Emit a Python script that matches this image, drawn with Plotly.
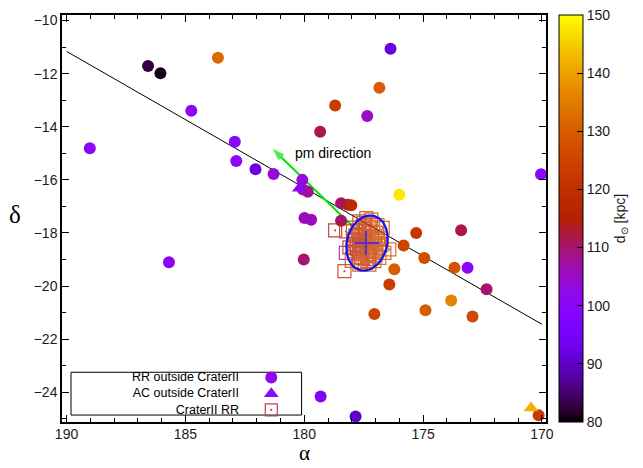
import numpy as np
import plotly.graph_objects as go

# ---------------- data ----------------
# RR Lyrae outside Crater II: alpha, delta, distance [kpc]
rr_alpha = [189.02, 186.57, 186.05, 183.63, 184.75, 182.92, 182.86, 182.05, 181.29,
            176.37, 176.84, 178.70, 177.35, 179.33, 170.04, 176.00,
            180.08, 180.05, 179.85, 178.45, 178.17, 178.02, 179.99, 179.71, 178.45,
            180.02, 185.69, 175.29, 173.40, 175.82, 174.95, 173.68, 173.13, 176.21,
            176.42, 172.33, 173.82, 174.90, 172.92, 177.05, 170.14, 177.84, 179.31]
rr_delta = [-14.81, -11.71, -11.98, -11.40, -13.40, -14.56, -15.29, -15.60, -15.78,
            -11.06, -12.53, -13.20, -13.59, -14.19, -15.79, -16.56,
            -16.00, -16.36, -16.45, -16.88, -16.94, -16.96, -17.44, -17.50, -17.54,
            -19.00, -19.10, -18.00, -17.90, -18.47, -18.94, -19.31, -19.31, -19.37,
            -19.94, -20.12, -20.54, -20.91, -21.15, -21.05, -24.87, -24.91, -24.16]
rr_dist = [100, 83, 81, 132, 100, 100, 100, 92, 104,
           92, 130, 123, 105, 112, 100, 148,
           104, 106, 108, 110, 113, 118, 106, 106, 110,
           110, 100, 122, 112, 125, 127, 128, 100, 130,
           123, 110, 136, 130, 126, 125, 123, 90, 98]

# Anomalous Cepheids outside Crater II
ac_alpha = [180.20, 170.46]
ac_delta = [-16.32, -24.59]
ac_dist = [100, 142]

# Crater II RR Lyrae
cr_alpha = [178.70, 178.24, 178.31, 178.10, 176.70, 176.63, 176.42, 177.39, 177.18,
            177.68, 177.68, 177.26, 177.05, 176.84, 177.89, 178.25, 177.95, 178.00,
            177.55, 177.30, 177.10, 177.75, 177.45, 177.20, 176.95, 177.85, 177.60,
            177.38, 177.15, 176.90, 177.70, 177.50, 177.28, 177.05, 177.90, 177.62,
            177.40, 177.18, 176.98, 177.78, 177.55, 177.33, 177.12, 177.65, 177.42,
            177.22, 177.00, 177.55, 177.30, 177.48, 177.25, 177.68, 177.02, 177.36,
            177.58, 177.14, 177.80, 176.85, 177.95, 177.45, 177.35, 177.72, 176.80,
            177.50, 177.20, 176.75, 177.00, 177.62, 177.28, 176.92]
cr_delta = [-17.90, -17.94, -19.44, -18.54, -17.81, -18.75, -18.62, -17.44, -17.50,
            -17.56, -19.19, -19.19, -19.06, -18.94, -18.69, -18.75, -17.80, -19.05,
            -17.75, -17.70, -17.80, -17.90, -17.95, -17.98, -18.00, -18.10, -18.12,
            -18.15, -18.18, -18.22, -18.30, -18.32, -18.35, -18.38, -18.42, -18.45,
            -18.48, -18.50, -18.55, -18.60, -18.62, -18.65, -18.68, -18.78, -18.80,
            -18.82, -18.85, -18.95, -18.98, -18.25, -18.55, -18.05, -18.12, -18.40,
            -18.52, -18.28, -18.48, -18.40, -18.25, -17.85, -19.05, -18.92, -18.20,
            -17.62, -17.65, -18.45, -18.70, -19.10, -18.88, -17.70]
cr_dist = [114, 118, 120, 116, 125, 126, 127, 124, 122,
           120, 123, 126, 125, 127, 119, 108, 121, 122,
           118, 122, 124, 119, 121, 123, 126, 117, 120,
           122, 124, 125, 118, 121, 123, 125, 116, 120,
           122, 124, 126, 118, 121, 123, 125, 119, 122,
           124, 126, 120, 123, 121, 124, 119, 125, 122,
           120, 123, 117, 126, 118, 121, 124, 120, 126,
           122, 124, 127, 125, 121, 123, 125]

# great-circle fit line end points
fit_alpha = [190.0, 170.0]
fit_delta = [-11.16, -21.44]

# proper-motion arrow (tail -> head) and label
pm_alpha = [177.97, 181.33]
pm_delta = [-17.75, -14.83]
pm_label = "pm direction"

# Crater II centre and half-light ellipse parameters
cr_centre = (177.36, -18.38)
ell_a_alpha = 0.86
ell_b_delta = 1.04
ell_shear = 0.135
cross_half_alpha = 0.52
cross_half_delta = 0.45

legend_labels = ["RR outside CraterII", "AC outside CraterII", "CraterII RR"]
cbar_ticks = [80, 90, 100, 110, 120, 130, 140, 150]

# ---------------- gnuplot default palette (rgbformulae 7,5,15) ----------------
xs = np.linspace(0, 1, 41)
colorscale = []
for x in xs:
    r = np.sqrt(x)
    g = x ** 3
    b = np.clip(np.sin(2 * np.pi * x), 0, 1)
    colorscale.append([float(x), f"rgb({int(round(r*255))},{int(round(g*255))},{int(round(b*255))})"])

FONT = "Liberation Sans, Arial, sans-serif"

fig = go.Figure()

# fit line
fig.add_trace(go.Scatter(x=fit_alpha, y=fit_delta, mode="lines",
                         line=dict(color="black", width=1), showlegend=False, hoverinfo="skip"))

# proper-motion arrow (line + arrow head marker)
fig.add_trace(go.Scatter(x=pm_alpha, y=pm_delta, mode="lines+markers",
                         line=dict(color="#00e600", width=2),
                         marker=dict(symbol=["circle", "arrow"], size=[0, 13], angleref="previous",
                                     color="#00e600", line=dict(width=0)),
                         showlegend=False, hoverinfo="skip"))

# RR outside
fig.add_trace(go.Scatter(x=rr_alpha, y=rr_delta, mode="markers", name=legend_labels[0],
                         marker=dict(symbol="circle", size=12, color=rr_dist, coloraxis="coloraxis",
                                     line=dict(width=0)), showlegend=False))
# AC outside
fig.add_trace(go.Scatter(x=ac_alpha, y=ac_delta, mode="markers", name=legend_labels[1],
                         marker=dict(symbol="triangle-up", size=13, color=ac_dist, coloraxis="coloraxis",
                                     line=dict(width=0)), showlegend=False))
# Crater II RR
fig.add_trace(go.Scatter(x=cr_alpha, y=cr_delta, mode="markers", name=legend_labels[2],
                         marker=dict(symbol="square-open-dot", size=13, color=cr_dist, coloraxis="coloraxis",
                                     line=dict(width=1.2)), opacity=0.8, showlegend=False))

# ellipse
t = np.linspace(0, 2 * np.pi, 200)
e_d = ell_b_delta * np.sin(t)
e_a = ell_a_alpha * np.cos(t) - ell_shear * e_d
fig.add_trace(go.Scatter(x=cr_centre[0] + e_a, y=cr_centre[1] + e_d, mode="lines",
                         line=dict(color="#0a14f0", width=2.2), showlegend=False, hoverinfo="skip"))
# centre cross
fig.add_trace(go.Scatter(
    x=[cr_centre[0] + cross_half_alpha, cr_centre[0] - cross_half_alpha, None, cr_centre[0] + 0.05, cr_centre[0] + 0.05],
    y=[cr_centre[1], cr_centre[1], None, cr_centre[1] + cross_half_delta, cr_centre[1] - cross_half_delta],
    mode="lines", line=dict(color="#5030d0", width=2), showlegend=False, hoverinfo="skip"))

# manual gnuplot-style legend (text right-aligned, symbol on the right)
LEG_FONT = 12.5
line_px = LEG_FONT * 1.3
plot_h = 409.0
leg_centre_px = 393.5          # from top of figure
leg_y = [(422 - (leg_centre_px + k * line_px)) / plot_h for k in (-1, 0, 1)]
leg_x = 0.4324
fig.add_trace(go.Scatter(x=[leg_x], y=[leg_y[0]], xaxis="x2", yaxis="y2", mode="markers",
                         marker=dict(symbol="circle", size=12, color="rgb(145,8,240)"), showlegend=False))
fig.add_trace(go.Scatter(x=[leg_x], y=[leg_y[1]], xaxis="x2", yaxis="y2", mode="markers",
                         marker=dict(symbol="triangle-up", size=13, color="rgb(140,10,245)"), showlegend=False))
fig.add_trace(go.Scatter(x=[leg_x], y=[leg_y[2]], xaxis="x2", yaxis="y2", mode="markers",
                         marker=dict(symbol="square-open-dot", size=12, color="rgb(192,64,84)",
                                     line=dict(width=1.2)), showlegend=False))

annotations = [dict(x=0.3705, y=leg_y[1], xref="paper", yref="paper", text="<br>".join(legend_labels),
                    showarrow=False, xanchor="right", yanchor="middle", align="right",
                    font=dict(size=LEG_FONT, color="black", family=FONT))]

annotations.append(dict(x=178.79, y=-14.98, xref="x", yref="y", text=pm_label, showarrow=False,
                        font=dict(size=14, color="black", family=FONT)))
# axis titles
annotations.append(dict(x=0.501, y=-(467 - 422) / plot_h, xref="paper", yref="paper", text="α", showarrow=False,
                        xanchor="center", yanchor="bottom",
                        font=dict(size=21, color="black", family="Liberation Serif, serif")))
annotations.append(dict(x=-0.097, y=0.511, xref="paper", yref="paper", text="δ", showarrow=False,
                        xanchor="center", yanchor="middle", font=dict(size=25, color="black", family="Liberation Serif, serif")))

axis_common = dict(showline=True, mirror="ticks", linecolor="black", linewidth=1.5,
                   ticks="inside", ticklen=7, tickwidth=1, tickcolor="black",
                   showgrid=False, zeroline=False,
                   tickfont=dict(size=14, color="#1a1a1a", family=FONT))

fig.update_layout(
    width=643, height=468,
    margin=dict(l=62, r=96, t=13, b=46),
    plot_bgcolor="white", paper_bgcolor="white",
    font=dict(family=FONT, size=14, color="black"),
    xaxis=dict(range=[190.19, 169.83], tick0=170, dtick=5, ticklabelstandoff=-2,
               minor=dict(dtick=1, ticks="inside", ticklen=4, tickcolor="black", showgrid=False),
               **axis_common),
    yaxis=dict(range=[-25.12, -9.79], tick0=-10, dtick=2,
               minor=dict(dtick=1, ticks="inside", ticklen=4, tickcolor="black", showgrid=False),
               **axis_common),
    xaxis2=dict(overlaying="x", anchor="y2", range=[0, 1], visible=False),
    yaxis2=dict(overlaying="y", anchor="x2", range=[0, 1], visible=False),
    coloraxis=dict(colorscale=colorscale, cmin=80, cmax=150,
                   colorbar=dict(x=1.0268, xanchor="left", xpad=0, y=0.5, yanchor="middle",
                                 len=1.0, lenmode="fraction", ypad=0, thickness=24, thicknessmode="pixels",
                                 outlinewidth=1, outlinecolor="black",
                                 tickvals=cbar_ticks, ticks="inside", ticklen=6, tickcolor="black",
                                 tickfont=dict(size=14, color="#1a1a1a", family=FONT),
                                 title=dict(text="d<sub>⊙</sub> [kpc]", side="right",
                                            font=dict(size=14, color="#1a1a1a", family=FONT)))),
    shapes=[dict(type="rect", xref="paper", yref="paper", x0=0.0186, x1=0.495, y0=0.0171, y1=0.1222,
                 line=dict(color="black", width=1), fillcolor="white", layer="below")],
    annotations=annotations,
    showlegend=False,
)

fig.write_html("out.html")
